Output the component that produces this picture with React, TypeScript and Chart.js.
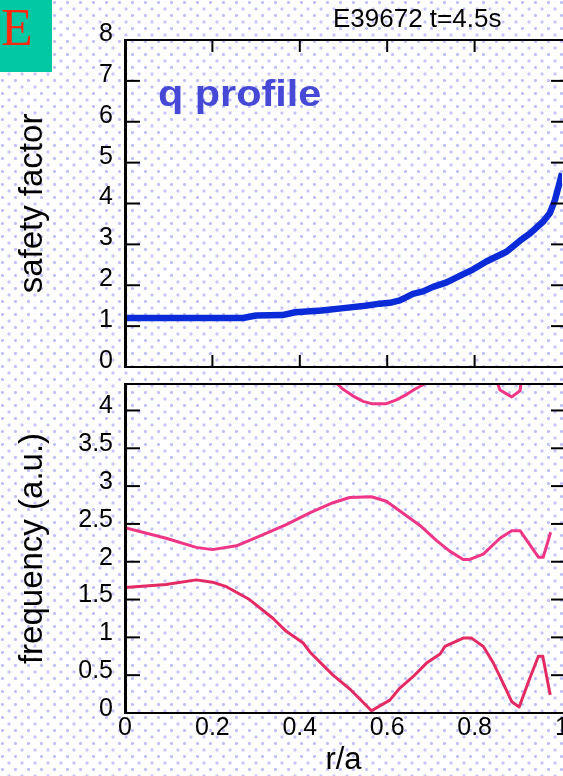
import React, { useEffect, useRef } from "react";
import { Chart, registerables } from "chart.js";

Chart.register(...registerables);
Chart.defaults.font.family = "'Liberation Sans', Arial, Helvetica, sans-serif";

// ---- data ----
const qR = [0, 0.1, 0.2, 0.27, 0.3, 0.36, 0.39, 0.45, 0.5, 0.55, 0.583, 0.606, 0.629, 0.659, 0.682, 0.705, 0.736, 0.766, 0.797, 0.827, 0.873, 0.904, 0.927, 0.957, 0.972, 0.984, 0.992, 1.0];
const qVal = [1.2, 1.2, 1.2, 1.2, 1.26, 1.27, 1.34, 1.38, 1.44, 1.5, 1.55, 1.57, 1.63, 1.79, 1.85, 1.96, 2.07, 2.23, 2.39, 2.58, 2.82, 3.09, 3.27, 3.56, 3.76, 4.09, 4.41, 4.74];

const lowR = [0, 0.094, 0.163, 0.2, 0.232, 0.285, 0.339, 0.369, 0.407, 0.424, 0.476, 0.514, 0.564, 0.606, 0.629, 0.659, 0.69, 0.721, 0.732, 0.774, 0.793, 0.82, 0.843, 0.858, 0.873, 0.885, 0.902, 0.923, 0.946, 0.956, 0.973];
const lowF = [1.66, 1.7, 1.76, 1.73, 1.67, 1.5, 1.25, 1.08, 0.93, 0.8, 0.5, 0.32, 0.03, 0.17, 0.33, 0.48, 0.66, 0.78, 0.88, 0.99, 0.99, 0.88, 0.66, 0.48, 0.3, 0.15, 0.08, 0.41, 0.75, 0.75, 0.24];

const midR = [0, 0.094, 0.163, 0.2, 0.255, 0.308, 0.369, 0.424, 0.476, 0.514, 0.564, 0.598, 0.629, 0.675, 0.713, 0.743, 0.774, 0.789, 0.82, 0.858, 0.885, 0.904, 0.946, 0.957, 0.974];
const midF = [2.45, 2.31, 2.19, 2.16, 2.21, 2.34, 2.49, 2.65, 2.78, 2.85, 2.86, 2.8, 2.67, 2.48, 2.28, 2.14, 2.03, 2.03, 2.1, 2.31, 2.41, 2.41, 2.06, 2.06, 2.39];

const upR = [0.47, 0.488, 0.499, 0.522, 0.545, 0.564, 0.598, 0.621, 0.644, 0.663, 0.682, 0.7];
const upF = [4.42, 4.34, 4.28, 4.19, 4.12, 4.09, 4.09, 4.14, 4.21, 4.28, 4.34, 4.4];

const edgeR = [0.85, 0.858, 0.885, 0.904, 0.907];
const edgeF = [4.4, 4.27, 4.18, 4.26, 4.4];

const qTicks = [0, 1, 2, 3, 4, 5, 6, 7, 8];
const fTicks = [0, 0.5, 1, 1.5, 2, 2.5, 3, 3.5, 4];
const rTicks = [0, 0.2, 0.4, 0.6, 0.8, 1];
const qMax = 8;
const fMax = 4.35;

const panelLetter = "E";
const shotLabel = "E39672 t=4.5s";
const qLabel = "q profile";
const qAxisTitle = "safety factor";
const fAxisTitle = "frequency (a.u.)";
const rAxisTitle = "r/a";

const pts = (xs: number[], ys: number[]) => xs.map((x, i) => ({ x, y: ys[i] }));

function frame(opts: { xTop: boolean; xBottom: boolean }) {
  return {
    id: "frameTicks",
    afterDatasetsDraw(chart: any) {
      const { ctx, chartArea: a, scales } = chart;
      const x = scales.x;
      const y = scales.y;
      ctx.save();
      ctx.strokeStyle = "#000";
      ctx.lineCap = "butt";
      const seg = (x1: number, y1: number, x2: number, y2: number, w: number) => {
        ctx.lineWidth = w;
        ctx.beginPath();
        ctx.moveTo(x1, y1);
        ctx.lineTo(x2, y2);
        ctx.stroke();
      };
      for (const t of y.ticks) {
        const py = y.getPixelForValue(t.value);
        seg(a.left, py, a.left + 15, py, 2);
        seg(a.right - 11, py, a.right + 2, py, 2);
      }
      for (const t of x.ticks) {
        if (t.value <= 0 || t.value >= 1) continue;
        const px = x.getPixelForValue(t.value);
        if (opts.xTop) seg(px, a.top, px, a.top + 12, 2);
        if (opts.xBottom) seg(px, a.bottom, px, a.bottom - 12, 2);
      }
      seg(a.left, a.top, a.right + 2, a.top, 2);
      seg(a.left, a.bottom, a.right + 2, a.bottom, 2);
      seg(a.left + 0.5, a.top - 1, a.left + 0.5, a.bottom + 1, 3);
      ctx.restore();
    },
  };
}

const topTexts = {
  id: "topTexts",
  afterDraw(chart: any) {
    const { ctx, chartArea: a } = chart;
    ctx.save();
    ctx.fillStyle = "#02c9a3";
    ctx.fillRect(0, 0, 52, 72);
    ctx.fillStyle = "#ff2a10";
    ctx.font = "52px 'Liberation Serif', 'Times New Roman', serif";
    ctx.textBaseline = "alphabetic";
    ctx.textAlign = "left";
    ctx.fillText(panelLetter, 1, 45);
    ctx.fillStyle = "#000";
    ctx.font = "26px 'Liberation Sans', Arial, sans-serif";
    ctx.fillText(shotLabel, 333, 27);
    ctx.fillStyle = "#4649d6";
    ctx.font = "bold 36px 'Liberation Sans', Arial, sans-serif";
    ctx.translate(a.left + 33, 106);
    ctx.scale(1.15, 1);
    ctx.fillText(qLabel, 0, 0);
    ctx.restore();
  },
};

const tickFont = { size: 25 };

const noPad = (s: any) => {
  s.paddingTop = 0;
  s.paddingBottom = 0;
  s.paddingLeft = 0;
  s.paddingRight = 0;
};

export default function App() {
  const topRef = useRef<HTMLCanvasElement>(null);
  const botRef = useRef<HTMLCanvasElement>(null);

  useEffect(() => {
    const top = new Chart(topRef.current!, {
      type: "line",
      data: {
        datasets: [
          {
            data: pts(qR, qVal),
            borderColor: "#0b2bd9",
            borderWidth: 6.5,
            pointRadius: 0,
            tension: 0,
            borderJoinStyle: "round",
          },
        ],
      },
      options: {
        animation: false,
        responsive: false,
        maintainAspectRatio: false,
        events: [],
        layout: { padding: { top: 40, right: 1, left: 0, bottom: 0 } },
        plugins: { legend: { display: false }, tooltip: { enabled: false } },
        scales: {
          x: {
            type: "linear",
            min: 0,
            max: 1,
            grid: { display: false, drawTicks: false },
            border: { display: false },
            ticks: { display: false },
            afterBuildTicks: (s: any) => {
              s.ticks = rTicks.map((v) => ({ value: v }));
            },
            afterFit: (s: any) => {
              s.height = 9;
              noPad(s);
            },
          },
          y: {
            type: "linear",
            min: 0,
            max: qMax,
            grid: { display: false, drawTicks: false },
            border: { display: false },
            ticks: { color: "#000", font: tickFont, padding: 12, labelOffset: -6, callback: (v: any) => String(v) },
            afterBuildTicks: (s: any) => {
              s.ticks = qTicks.map((v) => ({ value: v }));
            },
            afterFit: (s: any) => {
              s.width = 125;
              noPad(s);
            },
            title: { display: true, text: qAxisTitle, color: "#000", font: { size: 33 }, padding: { top: 13, bottom: 0 } },
          },
        },
      } as any,
      plugins: [frame({ xTop: true, xBottom: true }), topTexts],
    });

    const pink = "#ef3585";
    const red = "#e42a62";
    const ds = (xs: number[], ys: number[], c: string) => ({
      data: pts(xs, ys),
      borderColor: c,
      borderWidth: 3,
      pointRadius: 0,
      tension: 0,
      borderJoinStyle: "round",
    });

    const bot = new Chart(botRef.current!, {
      type: "line",
      data: {
        datasets: [ds(lowR, lowF, red), ds(midR, midF, pink), ds(upR, upF, pink), ds(edgeR, edgeF, pink)],
      },
      options: {
        animation: false,
        responsive: false,
        maintainAspectRatio: false,
        events: [],
        layout: { padding: { top: 8, right: 1, left: 0, bottom: 0 } },
        plugins: { legend: { display: false }, tooltip: { enabled: false } },
        scales: {
          x: {
            type: "linear",
            min: 0,
            max: 1,
            grid: { display: false, drawTicks: false },
            border: { display: false },
            ticks: { color: "#000", font: tickFont, padding: 0, maxRotation: 0, autoSkip: false, callback: (v: any) => String(v) },
            afterBuildTicks: (s: any) => {
              s.ticks = rTicks.map((v) => ({ value: v }));
            },
            afterFit: (s: any) => {
              s.height = 63;
              noPad(s);
            },
            title: { display: true, text: rAxisTitle, color: "#000", font: { size: 31, lineHeight: 1 }, padding: { top: 0, bottom: 0 } },
          },
          y: {
            type: "linear",
            min: 0,
            max: fMax,
            grid: { display: false, drawTicks: false },
            border: { display: false },
            ticks: { color: "#000", font: tickFont, padding: 12, labelOffset: -4, callback: (v: any) => String(v) },
            afterBuildTicks: (s: any) => {
              s.ticks = fTicks.map((v) => ({ value: v }));
            },
            afterFit: (s: any) => {
              s.width = 125;
              noPad(s);
            },
            title: { display: true, text: fAxisTitle, color: "#000", font: { size: 33 }, padding: { top: 13, bottom: 0 } },
          },
        },
      } as any,
      plugins: [frame({ xTop: false, xBottom: false })],
    });

    return () => {
      top.destroy();
      bot.destroy();
    };
  }, []);

  const dot = "radial-gradient(circle, rgb(190,190,248) 0, rgb(190,190,248) 1.2px, rgba(190,190,248,0) 1.8px)";
  return (
    <div
      style={{
        position: "absolute",
        left: 0,
        top: 0,
        width: 563,
        height: 776,
        overflow: "hidden",
        backgroundColor: "#fff",
        backgroundImage: `${dot}, ${dot}`,
        backgroundSize: "13px 13px",
        backgroundPosition: "-4px -4px, 2.5px 2.5px",
      }}
    >
      <canvas ref={topRef} width={563} height={376} style={{ position: "absolute", left: 0, top: 0, width: 563, height: 376 }} />
      <canvas ref={botRef} width={563} height={400} style={{ position: "absolute", left: 0, top: 376, width: 563, height: 400 }} />
    </div>
  );
}
